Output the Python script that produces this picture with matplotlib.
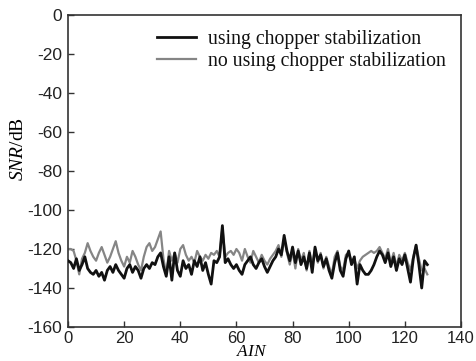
import matplotlib
matplotlib.use('Agg')
import matplotlib.pyplot as plt
import numpy as np

plt.rcParams['mathtext.fontset'] = 'custom'
plt.rcParams['mathtext.it'] = 'Liberation Serif:italic'
plt.rcParams['mathtext.rm'] = 'Liberation Serif'
plt.rcParams['axes.unicode_minus'] = False

# SNR (dB) per AIN channel
ain = list(range(129))

snr_chopper = [
    -126, -127, -130, -125, -131, -128, -124, -130, -132, -133,
    -131, -134, -132, -136, -131, -129, -132, -128, -131, -133,
    -135, -130, -128, -132, -129, -131, -135, -130, -128, -130,
    -127, -128, -124, -122, -129, -134, -124, -136, -122, -131,
    -134, -126, -130, -128, -133, -126, -129, -124, -131, -127,
    -133, -138, -126, -127, -124, -108, -127, -125, -128, -130,
    -128, -131, -133, -128, -126, -124, -128, -130, -127, -125,
    -129, -132, -129, -126, -124, -120, -123, -113, -121, -126,
    -119, -127, -121, -128, -124, -130, -122, -132, -119, -126,
    -123, -129, -125, -131, -135, -127, -122, -131, -134, -125,
    -121, -128, -124, -138, -128, -131, -133, -133, -131, -128,
    -124, -121, -123, -127, -122, -129, -124, -131, -125, -128,
    -123, -130, -137, -125, -118, -128, -140, -126, -128,
]

snr_no_chopper = [
    -120, -120, -121, -126, -133, -125, -122, -117, -121, -124,
    -126, -122, -119, -123, -127, -124, -120, -116, -122, -126,
    -129, -124, -127, -121, -124, -128, -131, -124, -119, -117,
    -121, -119, -115, -111, -125, -133, -121, -126, -122, -127,
    -120, -118, -123, -126, -124, -127, -121, -124, -126, -123,
    -125, -122, -123, -121, -124, -109, -124, -122, -121, -123,
    -120, -122, -126, -120, -124, -127, -121, -124, -127, -123,
    -126, -128, -125, -123, -121, -118, -124, -115, -122, -128,
    -121, -130, -120, -126, -122, -131, -121, -128, -120, -127,
    -122, -130, -124, -129, -133, -124, -121, -129, -131, -123,
    -122, -126, -125, -130, -126, -124, -123, -122, -121, -122,
    -121, -119, -122, -125, -120, -127, -122, -129, -123, -126,
    -122, -127, -131, -124, -118, -125, -131, -130, -133,
]

labels = ['using chopper stabilization', 'no using chopper stabilization']

fig = plt.figure(figsize=(4.76, 3.61), dpi=100)
ax = fig.add_axes([68 / 476, 1 - 327 / 361, 393 / 476, 312 / 361])

ax.plot(ain, snr_chopper, color='#111111', lw=2.0, zorder=3, label=labels[0])
ax.plot(ain, snr_no_chopper, color='#858585', lw=1.6, zorder=2, label=labels[1])

ax.set_xlim(0, 140)
ax.set_ylim(-160, 0)
ax.set_xticks(np.arange(0, 141, 20))
ax.set_yticks(np.arange(-160, 1, 20))

for s in ax.spines.values():
    s.set_color('#333333')
    s.set_linewidth(1.2)
ax.tick_params(direction='in', length=4, width=1, color='#333333',
               labelsize=12.5, pad=4, top=False, right=False)
ax.tick_params(axis='x', labelsize=12, pad=3)
for lab in ax.get_xticklabels() + ax.get_yticklabels():
    lab.set_family('Liberation Sans')
    lab.set_color('#222222')

ax.set_xlabel(r'$AIN$', fontsize=12.5, family='Liberation Serif')
ax.xaxis.set_label_coords((252 - 68) / 393, -0.056)
ax.set_ylabel(r'$SNR$/dB', fontsize=14, family='Liberation Serif')
ax.yaxis.set_label_coords(-0.105, 0.57)

leg = ax.legend(loc='upper right', frameon=False,
                prop={'family': 'Liberation Serif', 'size': 14.2},
                handlelength=2.0, handletextpad=0.6, labelspacing=0.15,
                borderaxespad=0.35, bbox_to_anchor=(1.0, 1.0))
for t in leg.get_texts():
    t.set_color('#111111')

fig.savefig('out.png', dpi=100)
